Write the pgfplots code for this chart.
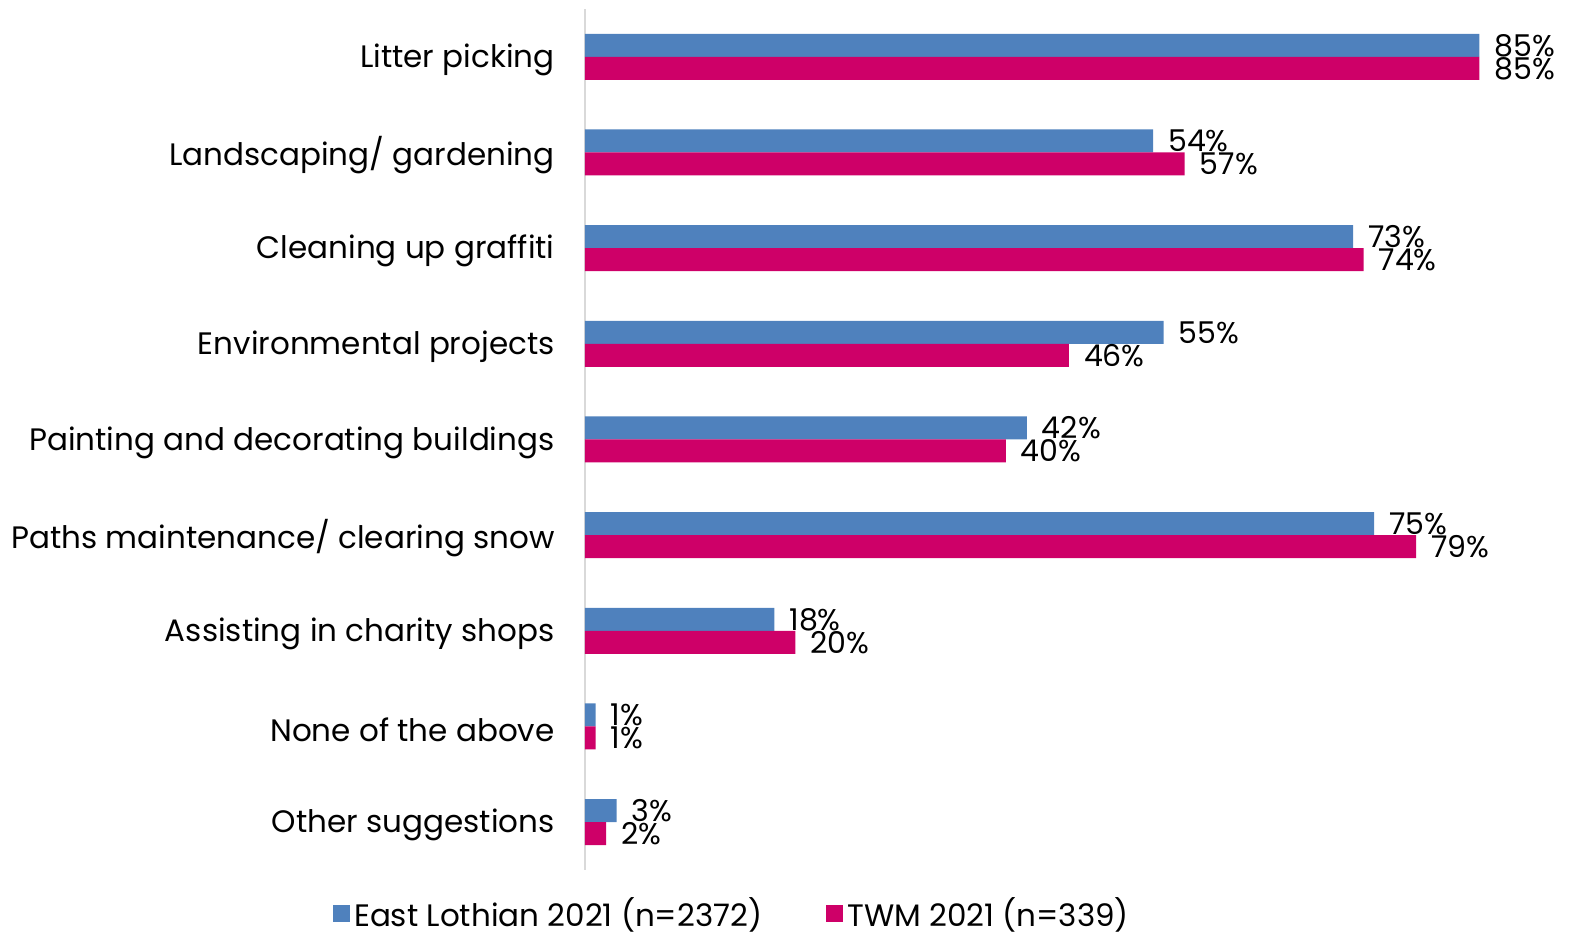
\documentclass[border=0pt]{standalone}
\usepackage{pgfplots}
\pgfplotsset{compat=1.18}
\usepackage{fontspec}
\setmainfont{Poppins}
\definecolor{elblue}{HTML}{4F81BD}
\definecolor{twm}{HTML}{CE0068}
\begin{document}
\begin{tikzpicture}
\path[use as bounding box] (-292.5pt,-32.5pt) rectangle (492pt,435pt);
\begin{axis}[
  at={(0,0)}, anchor=south west,
  scale only axis, width=484pt, height=430.5pt,
  xmin=0, xmax=92, ymin=-0.5, ymax=8.5,
  xbar, bar width=11.5pt,
  hide x axis,
  axis lines*=left,
  y axis line style={draw=black!15, line width=0.8pt},
  ytick={0,...,8},
  yticklabels={Other suggestions, None of the above, Assisting in charity shops, Paths maintenance/ clearing snow, Painting and decorating buildings, Environmental projects, Cleaning up graffiti, Landscaping/ gardening, Litter picking},
  major tick length=0pt,
  yticklabel style={font=\fontsize{15.5}{18}\selectfont, inner sep=0pt, xshift=-15pt, yshift=-1.5pt},
  /pgf/number format/assume math mode=true,
  point meta=x,
  nodes near coords={\pgfmathprintnumber{\pgfplotspointmeta}\%},
  every node near coord/.append style={font=\fontsize{15}{17}\selectfont, anchor=west, xshift=4pt, text=black},
  legend columns=2,
  legend style={draw=none, inner sep=1pt, at={(axis description cs:0.153,-0.051)}, anchor=center, font=\fontsize{15.5}{18}\selectfont, /tikz/every even column/.append style={column sep=30pt}},
  legend image code/.code={\fill (0pt,-4.25pt) rectangle (8.5pt,4.25pt);},
  clip=false,
]
\addplot[draw=none, fill=elblue, bar shift=5.75pt] coordinates {
 (85,8) (54,7) (73,6) (55,5) (42,4) (75,3) (18,2) (1,1) (3,0)};
\addplot[draw=none, fill=twm, bar shift=-5.75pt] coordinates {
 (85,8) (57,7) (74,6) (46,5) (40,4) (79,3) (20,2) (1,1) (2,0)};
\legend{East Lothian 2021 (n=2372), TWM 2021 (n=339)}
\end{axis}
\end{tikzpicture}
\end{document}
